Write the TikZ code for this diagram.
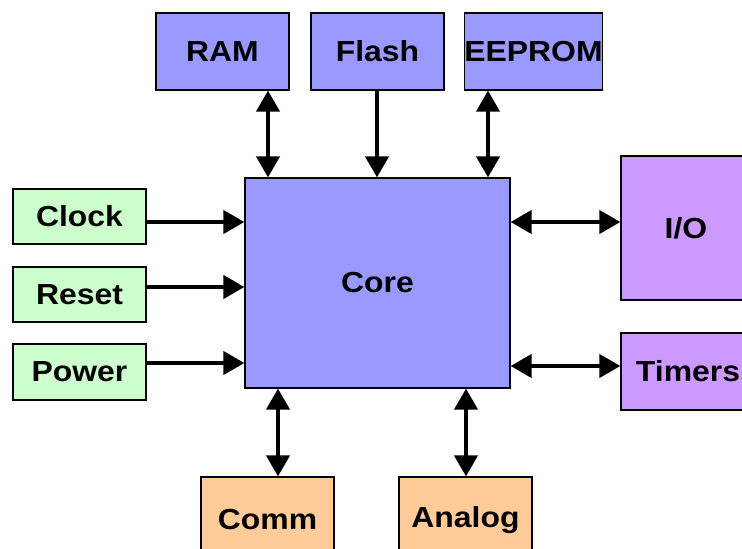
\documentclass[tikz,border=0pt]{standalone}
\usepackage{fontspec}
\setmainfont[FakeStretch=1.1]{Liberation Sans}
\usetikzlibrary{arrows.meta}

\definecolor{membox}{HTML}{9999FF}
\definecolor{ctlbox}{HTML}{CCFFCC}
\definecolor{perbox}{HTML}{CC99FF}
\definecolor{anabox}{HTML}{FFCC99}

\tikzset{
  blk/.style={draw=black, line width=1.2pt, rectangle, inner sep=0pt,
    font=\fontsize{29}{32}\selectfont\bfseries},
  link/.style={line width=4pt, -{Triangle[length=21pt,width=23pt]}},
  dlink/.style={line width=4pt, {Triangle[length=21pt,width=23pt]}-{Triangle[length=21pt,width=23pt]}}
}

\begin{document}
\begin{tikzpicture}[x=1pt, y=-1pt]
\useasboundingbox (0,0) rectangle (742,549);
\begin{scope}
\clip (0,0) rectangle (742,549);

% memories
\node[blk, fill=membox, minimum width=133pt, minimum height=77pt] (ram)    at (222.5,51.5) {RAM};
\node[blk, fill=membox, minimum width=133pt, minimum height=77pt] (flash)  at (377.5,51.5) {Flash};
\node[blk, fill=membox, minimum width=135pt, minimum height=77pt] (eeprom) at (533.5,51.5) {EEPROM};

% processor core
\node[blk, fill=membox, minimum width=265pt, minimum height=210pt] (core) at (377.5,283) {Core};

% control inputs
\node[blk, fill=ctlbox, minimum width=133pt, minimum height=55pt] (clock) at (79.5,216.5) {Clock};
\node[blk, fill=ctlbox, minimum width=133pt, minimum height=55pt] (reset) at (79.5,294.5) {Reset};
\node[blk, fill=ctlbox, minimum width=133pt, minimum height=56pt] (power) at (79.5,372) {Power};

% peripherals
\node[blk, fill=perbox, minimum width=130pt, minimum height=144pt] (io)     at (686,228)   {I/O};
\node[blk, fill=perbox, minimum width=134pt, minimum height=77pt]  (timers) at (688,371.5) {Timers};
\node[blk, fill=anabox, minimum width=133pt, minimum height=86pt]  (comm)   at (267.5,520) {Comm};
\node[blk, fill=anabox, minimum width=133pt, minimum height=86pt]  (analog) at (465.5,520) {Analog};

% connector positions
\coordinate (xram)  at (268,0);
\coordinate (xfl)   at (377,0);
\coordinate (xee)   at (488,0);
\coordinate (xcom)  at (278,0);
\coordinate (xana)  at (466,0);
\coordinate (yclk)  at (0,222);
\coordinate (yrst)  at (0,287);
\coordinate (ypwr)  at (0,363);
\coordinate (yio)   at (0,222);
\coordinate (ytim)  at (0,366);

% buses to memories
\draw[dlink] (ram.south -| xram) -- (core.north -| xram);
\draw[link]  (flash.south -| xfl) -- (core.north -| xfl);
\draw[dlink] (eeprom.south -| xee) -- (core.north -| xee);

% control signals
\draw[link] (clock.east |- yclk) -- (core.west |- yclk);
\draw[link] (reset.east |- yrst) -- (core.west |- yrst);
\draw[link] (power.east |- ypwr) -- (core.west |- ypwr);

% peripheral buses
\draw[dlink] (core.east |- yio)  -- (io.west |- yio);
\draw[dlink] (core.east |- ytim) -- (timers.west |- ytim);
\draw[dlink] (core.south -| xcom) -- (comm.north -| xcom);
\draw[dlink] (core.south -| xana) -- (analog.north -| xana);
\end{scope}
\end{tikzpicture}
\end{document}
